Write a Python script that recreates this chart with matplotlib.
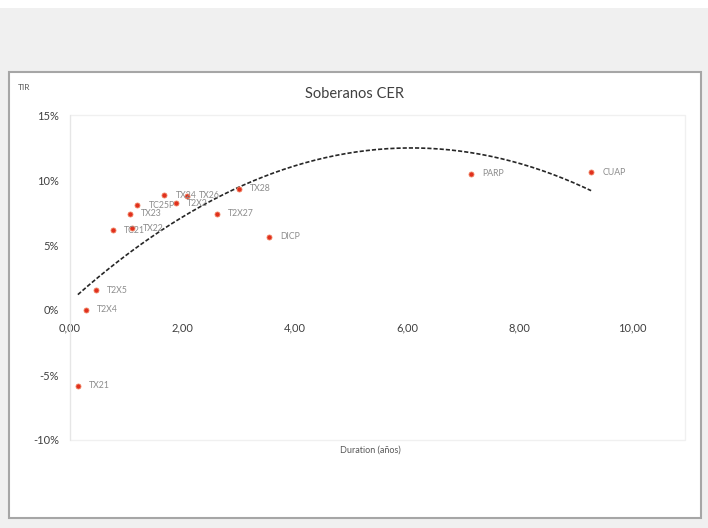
import numpy as np
import matplotlib
matplotlib.use("Agg")
import matplotlib.pyplot as plt
from matplotlib.patches import Rectangle
from matplotlib.ticker import FuncFormatter

plt.rcParams['font.family'] = ['Lato', 'DejaVu Sans']

# bonos CER: duration (años) y TIR (%)
bonos = ["TX21", "T2X4", "T2X5", "TC21", "TX22", "TX23", "TC25P", "TX24",
         "T2X2", "TX26", "T2X27", "TX28", "DICP", "PARP", "CUAP"]
duration = [0.14, 0.28, 0.46, 0.77, 1.10, 1.06, 1.20, 1.68,
            1.89, 2.09, 2.62, 3.01, 3.54, 7.14, 9.27]
tir = [-5.83, 0.0, 1.53, 6.13, 6.29, 7.41, 8.05, 8.82,
       8.23, 8.77, 7.41, 9.33, 5.62, 10.48, 10.61]

fig = plt.figure(figsize=(7.08, 5.28), dpi=100)
fig.patch.set_facecolor('#f0f0f0')

# marco blanco del grafico (como en Excel)
fig.patches.append(Rectangle((0, 1 - 8 / 528), 1, 8 / 528, transform=fig.transFigure,
                             facecolor='white', edgecolor='none', zorder=-10))
fig.patches.append(Rectangle((9 / 708, 10 / 528), 692 / 708, 446 / 528, transform=fig.transFigure,
                             facecolor='white', edgecolor='#a6a6a6', linewidth=1.5, zorder=-10))

ax = fig.add_axes([70 / 708, 88 / 528, 615 / 708, 325 / 528])
ax.set_facecolor('white')
ax.set_xlim(0, 10.94)
ax.set_ylim(-10, 15)

# borde tenue del area de trazado
ax.add_patch(Rectangle((0, 0), 1, 1, transform=ax.transAxes, fill=False,
                       edgecolor='#f0f0f0', linewidth=1.0, zorder=0, clip_on=False))

x = np.array(duration)
y = np.array(tir)
ax.scatter(x, y, s=13, color='#e0301e', edgecolors='#f08060', linewidths=0.6, zorder=3)

for nombre, xi, yi in zip(bonos, x, y):
    ax.annotate(nombre, (xi, yi), xytext=(8, 0), textcoords='offset points',
                va='center', ha='left', fontsize=6.3, color='#8c8c8c')

# linea de tendencia polinomica (orden 2)
coef = np.polyfit(x, y, 2)
xt = np.linspace(x.min(), x.max(), 200)
ax.plot(xt, np.polyval(coef, xt), color='#262626', linestyle=(0, (2.5, 1.2)), linewidth=1.2, zorder=2)

for s in ['top', 'right', 'bottom']:
    ax.spines[s].set_visible(False)
ax.spines['left'].set_color('#e6e6e6')
ax.spines['bottom'].set_position(('data', 0))

ax.set_xticks([0, 2, 4, 6, 8, 10])
ax.set_yticks([-10, -5, 0, 5, 10, 15])
ax.xaxis.set_major_formatter(FuncFormatter(lambda v, p: f"{v:.2f}".replace('.', ',')))
ax.yaxis.set_major_formatter(FuncFormatter(lambda v, p: f"{v:.0f}%"))
ax.tick_params(axis='both', length=0, labelsize=8, labelcolor='#404040')
ax.tick_params(axis='y', pad=8)
ax.tick_params(axis='x', pad=9)

fig.text(355 / 708, 1 - 94 / 528, "Soberanos CER", ha='center', va='center',
         fontsize=10.5, color='#404040')
fig.text(18 / 708, 1 - 87 / 528, "TIR", ha='left', va='center', fontsize=6, color='#595959')
fig.text(370 / 708, 1 - 450 / 528, "Duration (años)", ha='center', va='center',
         fontsize=6.5, color='#595959')

fig.savefig('out.png', dpi=100, facecolor=fig.get_facecolor())
